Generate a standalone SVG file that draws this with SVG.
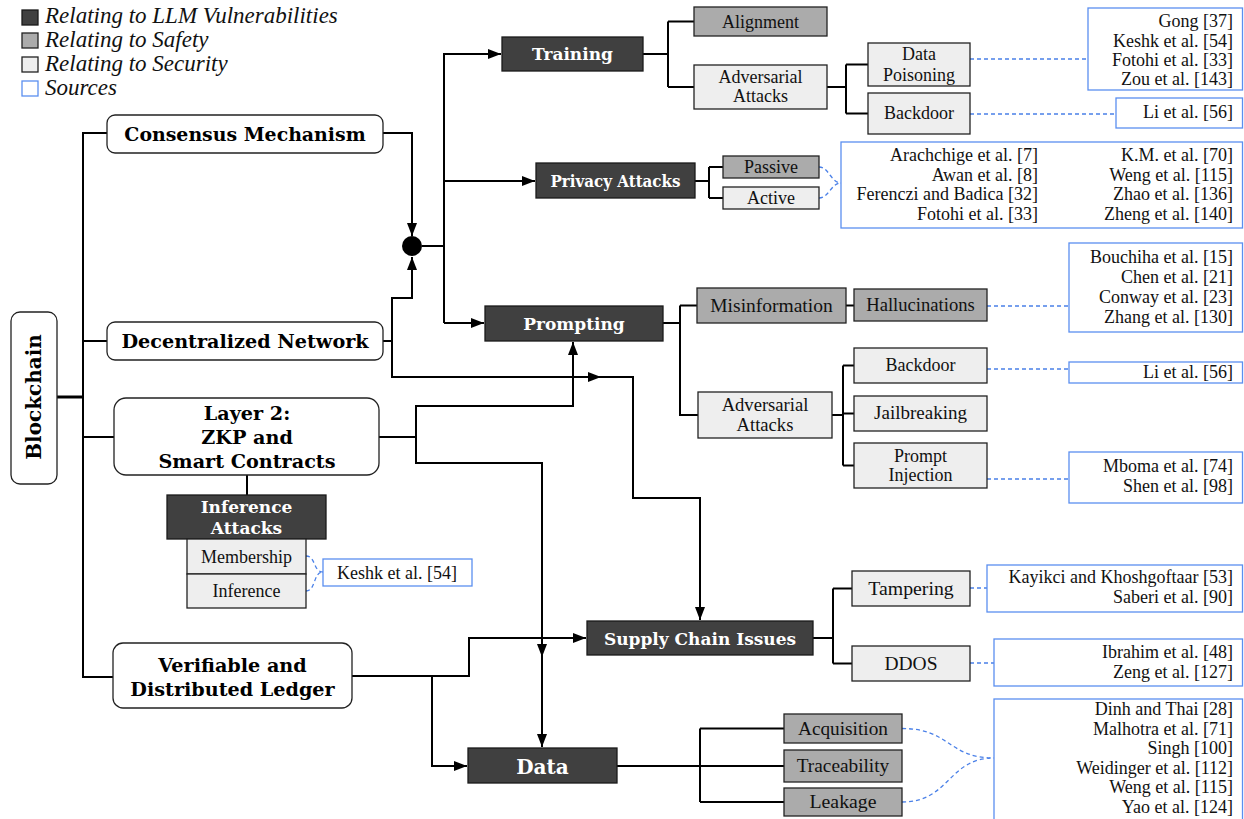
<svg xmlns="http://www.w3.org/2000/svg" width="1244" height="819" viewBox="0 0 1244 819">
<defs>
<style>
.conn{fill:none;stroke:#000;stroke-width:2}
.thick{fill:none;stroke:#000;stroke-width:3}
.dash{fill:none;stroke:#4a80e8;stroke-width:1.3;stroke-dasharray:4 3}
.rbox{fill:#fff;stroke:#222;stroke-width:1.3}
.dark{fill:#404040;stroke:#1a1a1a;stroke-width:1.3}
.gray{fill:#ababab;stroke:#222;stroke-width:1.3}
.light{fill:#eeeeee;stroke:#222;stroke-width:1.3}
.src{fill:#fff;stroke:#5b8ff0;stroke-width:1.3}
.bt{font-family:"DejaVu Serif",serif;font-weight:bold;font-size:19.2px;fill:#000;text-anchor:middle}
.wt{font-family:"DejaVu Serif",serif;font-weight:bold;font-size:17px;fill:#fff;text-anchor:middle}
.t{font-family:"Liberation Serif","Times New Roman",serif;font-size:18px;fill:#111;text-anchor:middle}
.r{font-family:"Liberation Serif","Times New Roman",serif;font-size:18px;fill:#111;text-anchor:end}
.leg{font-family:"Liberation Serif","Times New Roman",serif;font-style:italic;font-size:23px;fill:#111}
</style>
<marker id="arr" markerUnits="userSpaceOnUse" markerWidth="14" markerHeight="10" refX="13" refY="5" orient="auto">
<path d="M0,0 L13,5 L0,10 z" fill="#000"/>
</marker>
</defs>
<rect width="1244" height="819" fill="#fff"/>

<g id="legend">
<rect x="22" y="10" width="16" height="15" class="dark"/>
<text x="45" y="23" class="leg">Relating to LLM Vulnerabilities</text>
<rect x="22" y="33" width="16" height="15" class="gray"/>
<text x="45" y="47" class="leg">Relating to Safety</text>
<rect x="22" y="57" width="16" height="15" class="light"/>
<text x="45" y="71" class="leg">Relating to Security</text>
<rect x="22" y="81" width="16" height="15" class="src"/>
<text x="45" y="95" class="leg">Sources</text>
</g>

<g id="connectors">
<path d="M57,397 H83" class="thick"/>
<path d="M107,133 H83 V677 H113" class="conn"/>
<path d="M83,341 H107" class="conn"/>
<path d="M83,437 H114" class="conn"/>
<path d="M383,133 H412 V236" class="conn" marker-end="url(#arr)"/>
<path d="M383,341 H392 V298 H412 V257" class="conn" marker-end="url(#arr)"/>
<path d="M392,341 V377 H633 V498 H700 V620" class="conn" marker-end="url(#arr)"/>
<path d="M585,377 H601" class="conn" marker-end="url(#arr)"/>
<circle cx="412" cy="246" r="10" fill="#000"/>
<path d="M422,246 H444" class="conn"/>
<path d="M444,323 V54 H501" class="conn" marker-end="url(#arr)"/>
<path d="M444,181 H535" class="conn" marker-end="url(#arr)"/>
<path d="M444,323 H484" class="conn" marker-end="url(#arr)"/>
<path d="M379,437 H416 V406 H573 V342" class="conn" marker-end="url(#arr)"/>
<path d="M416,437 V463 H542 V747" class="conn" marker-end="url(#arr)"/>
<path d="M542,640 V657" class="conn" marker-end="url(#arr)"/>
<path d="M352,676 H469 V638 H586" class="conn" marker-end="url(#arr)"/>
<path d="M432,676 V766 H467" class="conn" marker-end="url(#arr)"/>
<path d="M247,475 V495" class="conn"/>
<path d="M643,54 H668 M668,21.5 V87 M668,21.5 H694 M668,87 H694" class="conn"/>
<path d="M827,87 H846 M846,64.5 V113.5 M846,64.5 H868 M846,113.5 H868" class="conn"/>
<path d="M695,181 H709 M709,167 V198 M709,167 H723 M709,198 H723" class="conn"/>
<path d="M663,323 H680 M680,305.5 V415 H698 M680,305.5 H697" class="conn"/>
<path d="M846,305.5 H854" class="conn"/>
<path d="M832,415 H843 M843,365.5 V465.5 M843,365.5 H854 M843,413.5 H854 M843,465.5 H854" class="conn"/>
<path d="M813,638 H833 M833,588.5 V663.5 M833,588.5 H852 M833,663.5 H852" class="conn"/>
<path d="M617,766 H784 M700,728.5 V802 M700,728.5 H784 M700,802 H784" class="conn"/>
<path d="M970,59 H1088" class="dash"/>
<path d="M970,114 H1116" class="dash"/>
<path d="M819,167 C829,167 831,183 841,183 M819,198 C829,198 831,183 841,183" class="dash"/>
<path d="M987,306 H1069" class="dash"/>
<path d="M987,369 H1069" class="dash"/>
<path d="M987,479 H1069" class="dash"/>
<path d="M970,588 H987" class="dash"/>
<path d="M970,663 H994" class="dash"/>
<path d="M902,728.5 C950,728.5 948,758 994,758 M902,802 C950,802 948,758 994,758" class="dash"/>
<path d="M306,556 C316,556 313,572 323,572 M306,591 C316,591 313,572 323,572" class="dash"/>
</g>

<g id="blockchain">
<rect x="11" y="312" width="46" height="172" rx="9" class="rbox"/>
<text x="34" y="404" class="bt" style="font-size:20px" transform="rotate(-90 34 397)">Blockchain</text>
</g>
<g id="consensus">
<rect x="107" y="115" width="276" height="38" rx="8" class="rbox"/>
<text x="245" y="141" class="bt" style="font-size:18.9px">Consensus Mechanism</text>
</g>
<g id="decentralized">
<rect x="107" y="322" width="276" height="38" rx="8" class="rbox"/>
<text x="245" y="348" class="bt">Decentralized Network</text>
</g>
<g id="layer2">
<rect x="114" y="398" width="265" height="77" rx="12" class="rbox"/>
<text x="247" y="420" class="bt">Layer 2:</text>
<text x="247" y="444" class="bt">ZKP and</text>
<text x="247" y="468" class="bt">Smart Contracts</text>
</g>
<g id="inference-attacks">
<rect x="167" y="495" width="159" height="44" class="dark"/>
<text x="246.5" y="513" class="wt">Inference</text>
<text x="246.5" y="534" class="wt">Attacks</text>
</g>
<g id="membership">
<rect x="187" y="539" width="119" height="35" class="light"/>
<text x="246.5" y="563" class="t">Membership</text>
</g>
<g id="inference">
<rect x="187" y="574" width="119" height="34" class="light"/>
<text x="246.5" y="597" class="t">Inference</text>
</g>
<g id="src-keshk">
<rect x="323" y="559" width="149" height="27" class="src"/>
<text x="397" y="579" class="t">Keshk et al. [54]</text>
</g>
<g id="verifiable">
<rect x="113" y="643" width="239" height="65" rx="10" class="rbox"/>
<text x="232.5" y="672" class="bt">Verifiable and</text>
<text x="232.5" y="696" class="bt">Distributed Ledger</text>
</g>

<g id="training">
<rect x="502" y="37" width="141" height="34" class="dark"/>
<text x="572.5" y="60" class="wt">Training</text>
</g>
<g id="alignment">
<rect x="694" y="7" width="133" height="29" class="gray"/>
<text x="760.5" y="28" class="t">Alignment</text>
</g>
<g id="adv-training">
<rect x="694" y="65" width="133" height="44" class="light"/>
<text x="760.5" y="83" class="t">Adversarial</text>
<text x="760.5" y="102" class="t">Attacks</text>
</g>
<g id="data-poisoning">
<rect x="868" y="43" width="102" height="43" class="light"/>
<text x="919" y="60" class="t">Data</text>
<text x="919" y="81" class="t">Poisoning</text>
</g>
<g id="backdoor-training">
<rect x="868" y="93" width="102" height="41" class="light"/>
<text x="919" y="119" class="t">Backdoor</text>
</g>
<g id="src-gong">
<rect x="1088" y="8" width="154.5" height="82" class="src"/>
<text x="1233" y="27" class="r">Gong [37]</text>
<text x="1233" y="47" class="r">Keshk et al. [54]</text>
<text x="1233" y="66" class="r">Fotohi et al. [33]</text>
<text x="1233" y="85" class="r">Zou et al. [143]</text>
</g>
<g id="src-li-1">
<rect x="1116" y="98" width="126.5" height="30" class="src"/>
<text x="1233" y="118" class="r">Li et al. [56]</text>
</g>

<g id="privacy-attacks">
<rect x="536" y="163" width="159" height="35" class="dark"/>
<text x="615.5" y="187" class="wt" style="font-size:16.5px" textLength="130" lengthAdjust="spacingAndGlyphs">Privacy Attacks</text>
</g>
<g id="passive">
<rect x="723" y="156" width="96" height="22" class="gray"/>
<text x="771" y="173" class="t">Passive</text>
</g>
<g id="active">
<rect x="723" y="187" width="96" height="22" class="light"/>
<text x="771" y="204" class="t">Active</text>
</g>
<g id="src-privacy">
<rect x="841" y="142" width="401.5" height="86" class="src"/>
<text x="1038" y="161" class="r">Arachchige et al. [7]</text>
<text x="1038" y="181" class="r">Awan et al. [8]</text>
<text x="1038" y="200" class="r">Ferenczi and Badica [32]</text>
<text x="1038" y="220" class="r">Fotohi et al. [33]</text>
<text x="1233" y="161" class="r">K.M. et al. [70]</text>
<text x="1233" y="181" class="r">Weng et al. [115]</text>
<text x="1233" y="200" class="r">Zhao et al. [136]</text>
<text x="1233" y="220" class="r">Zheng et al. [140]</text>
</g>

<g id="prompting">
<rect x="485" y="306" width="178" height="35" class="dark"/>
<text x="574" y="330" class="wt">Prompting</text>
</g>
<g id="misinformation">
<rect x="697" y="288" width="149" height="35" class="gray"/>
<text x="771.5" y="312" class="t" style="font-size:19.5px">Misinformation</text>
</g>
<g id="hallucinations">
<rect x="854" y="289" width="133" height="32" class="gray"/>
<text x="920.5" y="311" class="t" style="font-size:18.6px">Hallucinations</text>
</g>
<g id="src-bouchiha">
<rect x="1069" y="243" width="173.5" height="89" class="src"/>
<text x="1233" y="263" class="r">Bouchiha et al. [15]</text>
<text x="1233" y="283" class="r">Chen et al. [21]</text>
<text x="1233" y="303" class="r">Conway et al. [23]</text>
<text x="1233" y="323" class="r">Zhang et al. [130]</text>
</g>
<g id="adv-prompting">
<rect x="698" y="392" width="134" height="46" class="light"/>
<text x="765" y="411" class="t" style="font-size:18.6px">Adversarial</text>
<text x="765" y="431" class="t" style="font-size:18.6px">Attacks</text>
</g>
<g id="backdoor-prompting">
<rect x="854" y="348" width="133" height="35" class="light"/>
<text x="920.5" y="371" class="t">Backdoor</text>
</g>
<g id="jailbreaking">
<rect x="854" y="396" width="133" height="35" class="light"/>
<text x="920.5" y="419" class="t" style="font-size:19px">Jailbreaking</text>
</g>
<g id="prompt-injection">
<rect x="854" y="443" width="133" height="45" class="light"/>
<text x="920.5" y="462" class="t">Prompt</text>
<text x="920.5" y="481" class="t">Injection</text>
</g>
<g id="src-li-2">
<rect x="1069" y="362" width="173.5" height="21" class="src"/>
<text x="1233" y="378" class="r">Li et al. [56]</text>
</g>
<g id="src-mboma">
<rect x="1069" y="452" width="173.5" height="51" class="src"/>
<text x="1233" y="472" class="r">Mboma et al. [74]</text>
<text x="1233" y="492" class="r">Shen et al. [98]</text>
</g>

<g id="supply-chain">
<rect x="587" y="621" width="226" height="34" class="dark"/>
<text x="700" y="645" class="wt">Supply Chain Issues</text>
</g>
<g id="tampering">
<rect x="852" y="571" width="118" height="35" class="light"/>
<text x="911" y="595" class="t" style="font-size:19.8px">Tampering</text>
</g>
<g id="ddos">
<rect x="852" y="646" width="118" height="35" class="light"/>
<text x="911" y="670" class="t" style="font-size:19.5px">DDOS</text>
</g>
<g id="src-kayikci">
<rect x="987" y="565" width="255.5" height="47" class="src"/>
<text x="1233" y="583" class="r">Kayikci and Khoshgoftaar [53]</text>
<text x="1233" y="603" class="r">Saberi et al. [90]</text>
</g>
<g id="src-ibrahim">
<rect x="994" y="639" width="248.5" height="47" class="src"/>
<text x="1233" y="658" class="r">Ibrahim et al. [48]</text>
<text x="1233" y="678" class="r">Zeng et al. [127]</text>
</g>

<g id="data">
<rect x="468" y="748" width="149" height="35" class="dark"/>
<text x="542.5" y="774" class="wt" style="font-size:20px">Data</text>
</g>
<g id="acquisition">
<rect x="784" y="714" width="118" height="29" class="gray"/>
<text x="843" y="735" class="t" style="font-size:19.3px">Acquisition</text>
</g>
<g id="traceability">
<rect x="784" y="750" width="118" height="32" class="gray"/>
<text x="843" y="772" class="t" style="font-size:19.3px">Traceability</text>
</g>
<g id="leakage">
<rect x="784" y="788" width="118" height="28" class="gray"/>
<text x="843" y="808" class="t" style="font-size:19.8px">Leakage</text>
</g>
<g id="src-dinh">
<rect x="994" y="699" width="248.5" height="130" class="src"/>
<text x="1233" y="715" class="r">Dinh and Thai [28]</text>
<text x="1233" y="735" class="r">Malhotra et al. [71]</text>
<text x="1233" y="754" class="r">Singh [100]</text>
<text x="1233" y="774" class="r">Weidinger et al. [112]</text>
<text x="1233" y="793" class="r">Weng et al.  [115]</text>
<text x="1233" y="813" class="r">Yao et al. [124]</text>
</g>
</svg>
